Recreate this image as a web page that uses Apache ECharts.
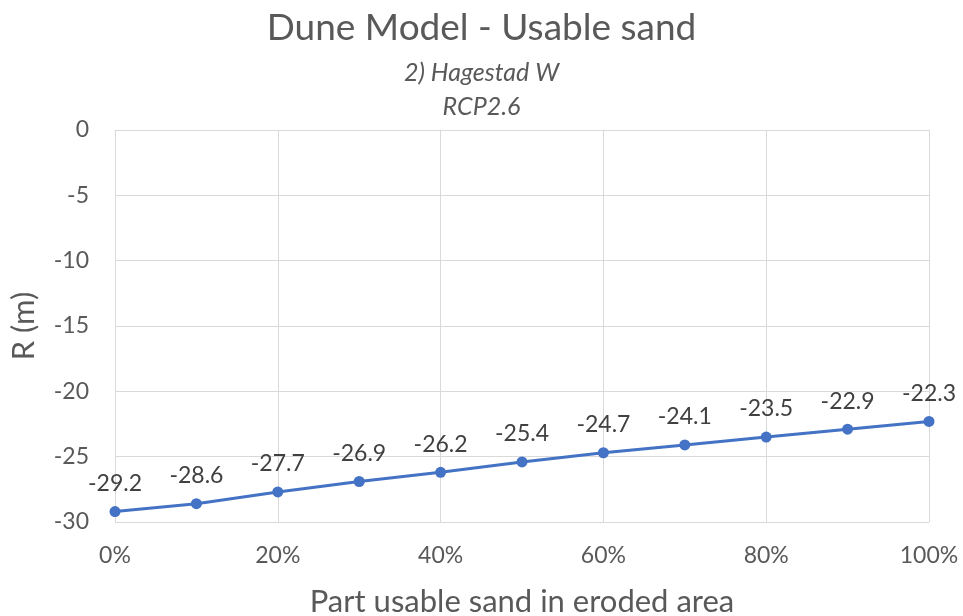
<!DOCTYPE html>
<html>
<head>
<meta charset="utf-8">
<script src="https://cdn.jsdelivr.net/npm/echarts@6/dist/echarts.min.js"></script>
<style>
  html, body { margin: 0; padding: 0; background: #fff; }
  #chart { width: 963px; height: 616px; }
</style>
</head>
<body>
<div id="chart"></div>
<script>
// Share of usable sand in the eroded area (fraction) and resulting R (m)
const usableShare = [0, 0.1, 0.2, 0.3, 0.4, 0.5, 0.6, 0.7, 0.8, 0.9, 1.0];
const rValues = [-29.2, -28.6, -27.7, -26.9, -26.2, -25.4, -24.7, -24.1, -23.5, -22.9, -22.3];

const titleText = 'Dune Model - Usable sand';
const subtitleLines = ['2) Hagestad W', 'RCP2.6'];
const xAxisName = 'Part usable sand in eroded area';
const yAxisName = 'R (m)';

const textColor = '#595959';
const labelColor = '#404040';
const gridColor = '#d9d9d9';
const fontFamily = 'Lato, "Open Sans", sans-serif';

const chart = echarts.init(document.getElementById('chart'), null, { renderer: 'canvas' });

chart.setOption({
  backgroundColor: '#ffffff',
  animation: false,
  title: [
    {
      text: titleText,
      left: 'center',
      top: 5,
      textStyle: { fontFamily: fontFamily, fontSize: 37, fontWeight: 'normal', color: textColor }
    },
    {
      text: subtitleLines.join('\n'),
      left: 'center',
      top: 51,
      textStyle: { fontFamily: fontFamily, fontSize: 25, fontStyle: 'italic', fontWeight: 'normal', color: textColor, lineHeight: 34 }
    }
  ],
  grid: { left: 115, right: 34, top: 130, bottom: 94, containLabel: false, outerBoundsMode: 'none' },
  xAxis: {
    type: 'value',
    min: 0,
    max: 1,
    interval: 0.2,
    name: xAxisName,
    nameLocation: 'middle',
    nameGap: 64,
    nameTextStyle: { fontFamily: fontFamily, fontSize: 31, color: textColor },
    axisLine: { show: true, lineStyle: { color: gridColor, width: 1 } },
    axisTick: { show: false },
    axisLabel: {
      margin: 22,
      fontFamily: fontFamily, fontSize: 23, color: textColor,
      formatter: v => Math.round(v * 100) + '%'
    },
    splitLine: { show: true, lineStyle: { color: gridColor, width: 1 } }
  },
  yAxis: {
    type: 'value',
    min: -30,
    max: 0,
    interval: 5,
    name: yAxisName,
    nameLocation: 'middle',
    nameGap: 76,
    nameRotate: 90,
    nameTextStyle: { fontFamily: fontFamily, fontSize: 31, color: textColor },
    axisLine: { show: false },
    axisTick: { show: false },
    axisLabel: { margin: 26, fontFamily: fontFamily, fontSize: 23, color: textColor },
    splitLine: { show: true, lineStyle: { color: gridColor, width: 1 } }
  },
  series: [
    {
      type: 'line',
      data: usableShare.map((x, i) => [x, rValues[i]]),
      symbol: 'circle',
      symbolSize: 11,
      lineStyle: { color: '#4472C4', width: 3 },
      itemStyle: { color: '#4472C4' },
      label: {
        show: true,
        position: 'top',
        distance: 11,
        fontFamily: fontFamily,
        fontSize: 23,
        color: labelColor,
        formatter: p => p.value[1].toFixed(1)
      }
    }
  ]
});
</script>
</body>
</html>
